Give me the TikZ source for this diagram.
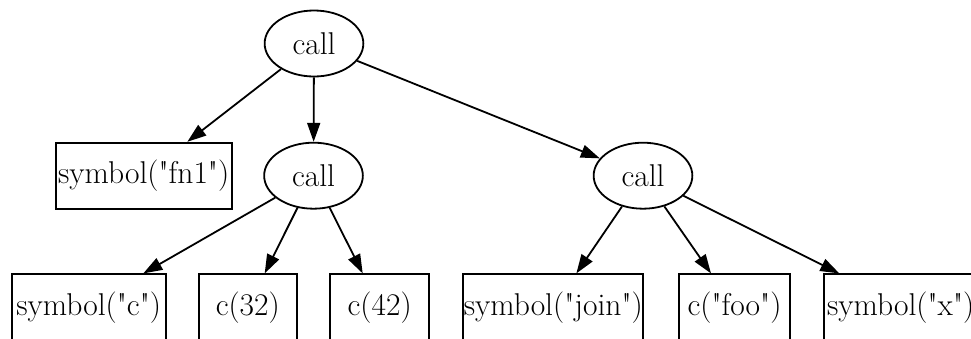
\documentclass[tikz,border=0pt]{standalone}
\usepackage{fontspec}
\newfontfamily\graphfont{Latin Modern Roman}
\usetikzlibrary{arrows.meta,shapes.geometric}
\begin{document}
\begin{tikzpicture}[x=1pt,y=-1pt,
  every node/.style={font=\graphfont\fontsize{31.5}{38}\selectfont, line width=1.8pt, draw, inner sep=0pt},
  callnode/.style={ellipse, minimum width=98.7pt, minimum height=66pt},
  boxnode/.style={rectangle, minimum height=66pt},
  edge/.style={line width=1.8pt, -{Triangle[length=19pt,width=13pt]}}]
\useasboundingbox (0,0) rectangle (971,338);
\clip (0,0) rectangle (971,338);
\node[callnode] (top) at (314,43.5) {call};
\node[boxnode, minimum width=176pt] (fn1) at (143.7,175.7) {symbol("fn1")};
\node[callnode] (mid) at (313.5,175.7) {call};
\node[callnode] (right) at (643,175.7) {call};
\node[boxnode, minimum width=154pt] (symc) at (88.7,307.3) {symbol("c")};
\node[boxnode, minimum width=98.3pt] (c32) at (247.8,307.3) {c(32)};
\node[boxnode, minimum width=98.7pt] (c42) at (379.7,307.3) {c(42)};
\node[boxnode, minimum width=180pt] (join) at (553.3,307.3) {symbol("join")};
\node[boxnode, minimum width=111pt] (foo) at (734.5,307.3) {c("foo")};
\node[boxnode, minimum width=154pt] (symx) at (900.7,307.3) {symbol("x")};
\coordinate (ctip) at ([xshift=54.6pt]symc.north);
\coordinate (xtip) at ([xshift=-61.4pt]symx.north);
\draw[edge] (top) -- (fn1);
\draw[edge] (top) -- (mid);
\draw[edge] (top) -- (right);
\draw[edge] (mid) -- (ctip);
\draw[edge] (mid) -- (c32);
\draw[edge] (mid) -- (c42);
\draw[edge] (right) -- (join);
\draw[edge] (right) -- (foo);
\draw[edge] (right) -- (xtip);
\end{tikzpicture}
\end{document}
